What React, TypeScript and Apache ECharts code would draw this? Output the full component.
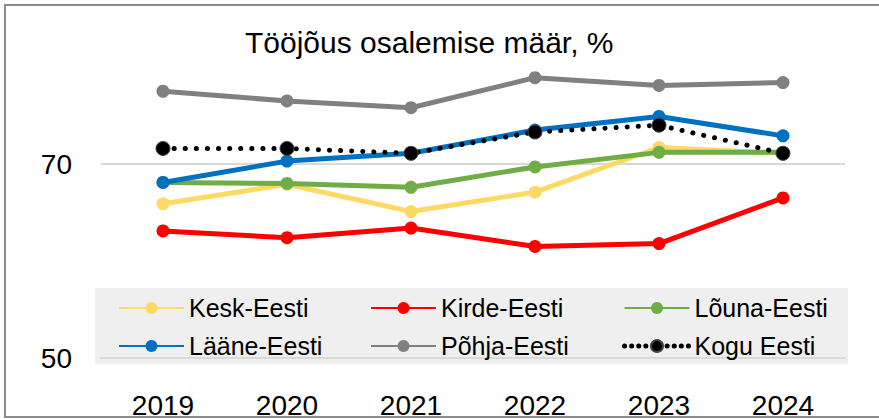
import React, { useEffect, useRef } from "react";
import * as echarts from "echarts";

const years = ["2019", "2020", "2021", "2022", "2023", "2024"];
const keskEesti = [65.9, 67.9, 65.1, 67.1, 71.7, 71.1];
const kirdeEesti = [63.1, 62.4, 63.4, 61.5, 61.8, 66.5];
const louunaEesti = [68.1, 68.0, 67.6, 69.7, 71.2, 71.2];
const laaneEesti = [68.1, 70.3, 71.1, 73.5, 74.9, 72.9];
const pohjaEesti = [77.5, 76.5, 75.8, 78.9, 78.1, 78.4];
const koguEesti = [71.6, 71.6, 71.1, 73.3, 74.0, 71.1];

const seriesNames = ["Kesk-Eesti", "Kirde-Eesti", "Lõuna-Eesti", "Lääne-Eesti", "Põhja-Eesti", "Kogu Eesti"];
const seriesColors = ["#FFD966", "#FF0000", "#70AD47", "#0070C0", "#808080", "#000000"];
const seriesData = [keskEesti, kirdeEesti, louunaEesti, laaneEesti, pohjaEesti, koguEesti];

const FONT = "'Liberation Sans', Arial, sans-serif";

export default function App() {
  const ref = useRef<HTMLDivElement>(null);
  useEffect(() => {
    if (!ref.current) return;
    const chart = echarts.init(ref.current, null, { renderer: "svg" });
    const series = seriesNames.map((name, i) => {
      const dotted = name === "Kogu Eesti";
      return {
        name,
        type: "line",
        data: seriesData[i],
        symbol: "circle",
        symbolSize: dotted ? 14 : 13,
        showSymbol: true,
        lineStyle: dotted
          ? { color: "#000", width: 5, type: [0.1, 11], cap: "round" }
          : { color: seriesColors[i], width: 5 },
        itemStyle: dotted
          ? { color: "#000", borderColor: "#444", borderWidth: 1 }
          : { color: seriesColors[i] },
        z: 2 + i,
      };
    });
    const legendCommon = {
      orient: "vertical",
      itemWidth: 65,
      itemHeight: 15,
      itemGap: 12,
      padding: 0,
      textStyle: { fontFamily: FONT, fontSize: 25, color: "#000", lineHeight: 26 },
      top: 295,
    };
    chart.setOption({
      animation: false,
      backgroundColor: "#fff",
      title: {
        text: "Tööjõus osalemise määr, %",
        left: 245,
        top: 27,
        padding: 0,
        textStyle: { fontFamily: FONT, fontSize: 30, fontWeight: "normal", color: "#000" },
      },
      graphic: [
        {
          type: "rect",
          z: -10,
          shape: { x: 5, y: 5, width: 900, height: 412 },
          style: { fill: "none", stroke: "#8c8c8c", lineWidth: 2 },
          silent: true,
        },
        {
          type: "rect",
          z: 0,
          shape: { x: 95, y: 288, width: 753, height: 76 },
          style: { fill: "#EFEFEF" },
          silent: true,
        },
      ],
      legend: [
        { ...legendCommon, left: 118, data: ["Kesk-Eesti", "Lääne-Eesti"] },
        { ...legendCommon, left: 370, data: ["Kirde-Eesti", "Põhja-Eesti"] },
        {
          ...legendCommon,
          left: 622,
          data: [
            "Lõuna-Eesti",
            { name: "Kogu Eesti", lineStyle: { type: [0.1, 7], cap: "round", width: 5 } },
          ],
        },
      ],
      grid: { left: 101, right: 34, top: 67, bottom: 53, containLabel: false },
      xAxis: {
        type: "category",
        data: years,
        boundaryGap: true,
        axisLine: { show: true, lineStyle: { color: "#D9D9D9", width: 2 } },
        axisTick: { show: false },
        axisLabel: { fontFamily: FONT, fontSize: 28, color: "#000", margin: 33 },
      },
      yAxis: {
        type: "value",
        min: 50,
        max: 80,
        interval: 20,
        axisLine: { show: false },
        axisTick: { show: false },
        axisLabel: {
          fontFamily: FONT,
          fontSize: 28,
          color: "#000",
          margin: 29,
          showMaxLabel: false,
          formatter: (v: number) => (v === 50 || v === 70 ? String(v) : ""),
        },
        splitLine: {
          show: true,
          showMaxLine: false,
          lineStyle: { color: "#D9D9D9", width: 2 },
        },
      },
      series,
    });
    return () => chart.dispose();
  }, []);
  return (
    <div
      ref={ref}
      style={{ position: "absolute", left: 0, top: 0, width: 879, height: 419 }}
    />
  );
}
